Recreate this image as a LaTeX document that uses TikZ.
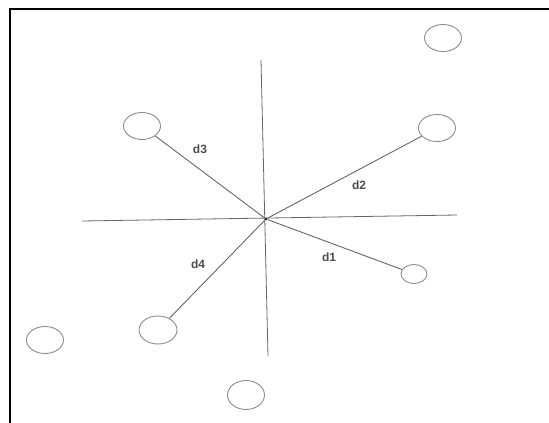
\documentclass[tikz,border=0pt]{standalone}
\usepackage{fontspec}
\setsansfont{Liberation Sans}
\usepackage{tikz}
\usetikzlibrary{shapes.geometric}

\tikzset{
  pt/.style={draw=black!45, line width=0.9pt, ellipse, inner sep=0pt, minimum width=37pt, minimum height=27pt},
  ptsmall/.style={pt, minimum width=26pt, minimum height=19pt},
  axis/.style={draw=black!60, line width=0.8pt},
  dist/.style={draw=black!60, line width=0.9pt},
  lab/.style={font=\sffamily\bfseries\fontsize{12}{14}\selectfont, text=black!70, inner sep=0pt}
}

\begin{document}
\begin{tikzpicture}[x=1pt, y=-1pt]
  % 1pt = 1 pixel of the frame, y downwards
  \useasboundingbox (0,0) rectangle (549,423);

  % Frame (top and left only)
  \draw[line width=2pt] (549,9) -- (10,9) -- (10,423);

  % Axes
  \coordinate (xl) at (82,221);
  \coordinate (xr) at (457,215);
  \coordinate (yt) at (261,60);
  \coordinate (yb) at (268,356);
  \draw[axis] (xl) -- (xr);
  \draw[axis] (yt) -- (yb);

  % Centre
  \node[circle, fill=black!85, inner sep=0pt, minimum size=3pt] (c) at (266,219) {};

  % Points
  \node[pt] (p0) at (443,38) {};
  \node[pt] (p2) at (437,128) {};
  \node[pt] (p3) at (142,126) {};
  \node[ptsmall] (p1) at (414,274) {};
  \node[pt, minimum width=38pt, minimum height=28pt] (p4) at (158,330) {};
  \node[pt] (p5) at (45,340) {};
  \node[pt, minimum height=29pt] (p6) at (246,395) {};

  % Distances
  \draw[dist] (c) -- (p1);
  \draw[dist] (c) -- (p2);
  \draw[dist] (c) -- (p3);
  \draw[dist] (c) -- (p4);

  % Labels
  \node[lab] (l1) at (329,257) {d1};
  \node[lab] (l2) at (359,185) {d2};
  \node[lab] (l3) at (200,149) {d3};
  \node[lab] (l4) at (198,264) {d4};
\end{tikzpicture}
\end{document}
